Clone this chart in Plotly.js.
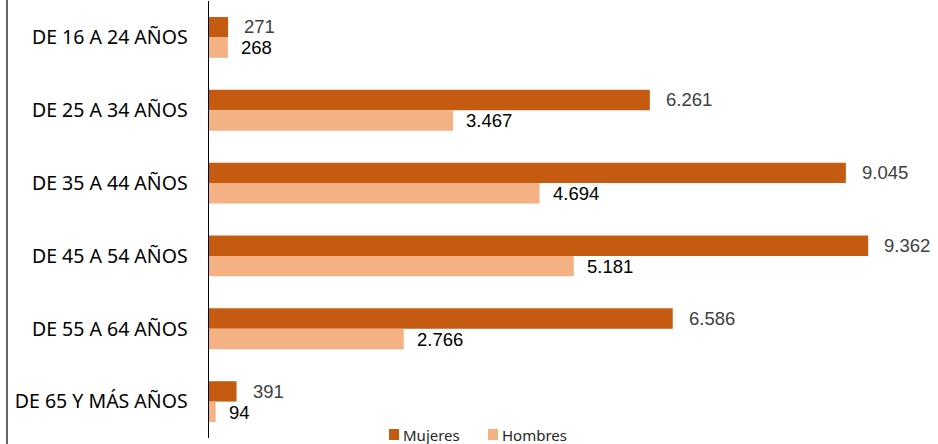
<!DOCTYPE html>
<html><head><meta charset="utf-8">
<script src="https://cdn.plot.ly/plotly-3.0.1.min.js"></script>
<style>html,body{margin:0;padding:0;background:#fff}#c{width:938px;height:444px}</style>
</head><body><div id="c"></div>
<script>
const categories = ["DE 16 A 24 AÑOS","DE 25 A 34 AÑOS","DE 35 A 44 AÑOS","DE 45 A 54 AÑOS","DE 55 A 64 AÑOS","DE 65 Y MÁS AÑOS"];
const mujeres = [271, 6261, 9045, 9362, 6586, 391];
const hombres = [268, 3467, 4694, 5181, 2766, 94];
const seriesNames = ["Mujeres", "Hombres"];
const seriesColors = ["#C55A11", "#F4B183"];
const fmt = v => v.toLocaleString('de-DE');

const font = "Noto Sans, sans-serif";
const numFont = "Liberation Sans, Arial, sans-serif";
const traces = [
  {type:'bar', orientation:'h', name:seriesNames[0], y:categories, x:mujeres,
   marker:{color:seriesColors[0]}, hoverinfo:'none'},
  {type:'bar', orientation:'h', name:seriesNames[1], y:categories, x:hombres,
   marker:{color:seriesColors[1]}, hoverinfo:'none'}
];
const ann = [];
categories.forEach((c,i)=>{
  ann.push({x:mujeres[i], y:c, text:fmt(mujeres[i]), xanchor:'left', yanchor:'middle', showarrow:false,
    borderpad:0, xshift:15, yshift:10.5, font:{family:numFont, size:18.5, color:'#404040'}});
  ann.push({x:hombres[i], y:c, text:fmt(hombres[i]), xanchor:'left', yanchor:'middle', showarrow:false,
    borderpad:0, xshift:12, yshift:-10.5, font:{family:numFont, size:18.5, color:'#000000'}});
});
// custom legend (pixel positions converted to paper coords)
const L = 209, W = 721, T = 1, H = 437;
const px = p => (p - L) / W, py = p => (T + H - p) / H;
const shapes = [{type:'line', xref:'paper', yref:'paper', x0:px(7), x1:px(7), y0:-0.1, y1:1.1,
    line:{color:'#000', width:1.2}}];
const legX = [389, 488];
seriesNames.forEach((n,k)=>{
  shapes.push({type:'rect', xref:'paper', yref:'paper', x0:px(legX[k]), x1:px(legX[k]+10),
    y0:py(440), y1:py(429), fillcolor:seriesColors[k], line:{width:0}});
  ann.push({xref:'paper', yref:'paper', x:px(legX[k]+13), y:py(434.5), text:n, xanchor:'left', yanchor:'middle',
    showarrow:false, borderpad:0, font:{family:font, size:15, color:'#262626'}});
});
const layout = {
  width:938, height:444,
  margin:{l:L, r:8, t:T, b:6, autoexpand:false},
  paper_bgcolor:'#fff', plot_bgcolor:'#fff',
  barmode:'group', bargap:0.44, bargroupgap:0,
  xaxis:{range:[0,10240], visible:false, fixedrange:true},
  yaxis:{autorange:'reversed', showline:true, linecolor:'#000', linewidth:1.5,
    ticks:'', ticklabelstandoff:16, tickfont:{family:font, size:19.5, color:'#000'}},
  showlegend:false,
  annotations:ann,
  shapes:shapes
};
Plotly.newPlot('c', traces, layout, {displayModeBar:false, staticPlot:true});
</script></body></html>
